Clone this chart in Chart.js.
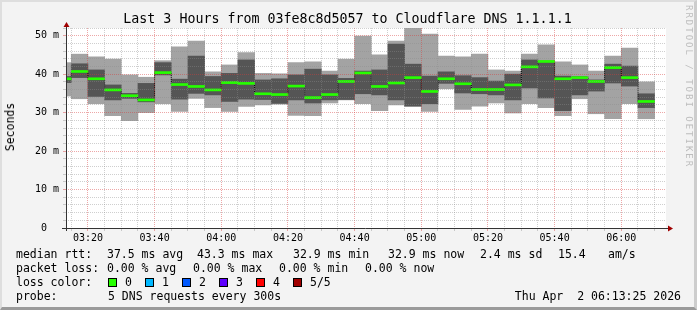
<!DOCTYPE html>
<html>
<head>
<meta charset="utf-8">
<script src="https://cdn.jsdelivr.net/npm/chart.js@4.4.1/dist/chart.umd.min.js"></script>
<style>
html, body { margin: 0; padding: 0; }
body {
    width: 697px; height: 310px; overflow: hidden; position: relative;
    background: #f3f3f3; color: #000;
    font-family: "DejaVu Sans Mono", monospace;
}
#frame {
    position: absolute; left: 0; top: 0; width: 697px; height: 310px; box-sizing: border-box;
    border-top: 2px solid #dedede; border-left: 2px solid #dedede;
    border-right: 3px solid #cdcdcd; border-bottom: 3px solid #9a9a9a;
}
#chart { position: absolute; left: 0; top: 0; }
.txt { position: absolute; white-space: pre; font-size: 11.5px; line-height: 14px; }
#title { position: absolute; left: 0; width: 695px; top: 11px; text-align: center; font-size: 13.3px; line-height: 16px; white-space: pre; }
#ytitle { position: absolute; left: 10px; top: 127px; font-size: 11.5px; line-height: 14px; transform: translate(-50%, -50%) rotate(-90deg); white-space: pre; }
#mark { position: absolute; left: 684px; top: 5px; writing-mode: vertical-rl; font-size: 9px; letter-spacing: 2px; color: #bdbdbd; white-space: pre; }
.sq { position: absolute; width: 7px; height: 7px; border: 1px solid #000; }
</style>
</head>
<body>
<div id="frame"></div>
<canvas id="chart" width="697" height="250"></canvas>
<div id="title">Last 3 Hours from 03fe8c8d5057 to Cloudflare DNS 1.1.1.1</div>
<div id="ytitle">Seconds</div>
<div id="mark">RRDTOOL / TOBI OETIKER</div>
<div id="legend"></div>

<script>
// --- Data (ms), one slot every 5 minutes ---
const slots = ['03:10','03:15','03:20','03:25','03:30','03:35','03:40','03:45','03:50','03:55',
               '04:00','04:05','04:10','04:15','04:20','04:25','04:30','04:35','04:40','04:45',
               '04:50','04:55','05:00','05:05','05:10','05:15','05:20','05:25','05:30','05:35',
               '05:40','05:45','05:50','05:55','06:00','06:05'];
const pingMin = [34.3, 33.6, 32.3, 29.2, 27.9, 30.0, 32.3, 30.3, 33.7, 31.3,
                 30.3, 31.6, 32.0, 32.2, 29.3, 29.2, 32.5, 33.3, 32.3, 30.5,
                 32.0, 31.6, 30.3, 36.2, 30.8, 31.7, 32.5, 29.9, 32.3, 31.3,
                 29.2, 33.6, 29.7, 28.4, 32.3, 28.4];
const ping2   = [37.8, 39.1, 34.2, 33.3, 33.7, 32.8, 39.8, 33.5, 35.0, 34.6,
                 32.9, 33.5, 33.4, 32.4, 33.3, 32.5, 33.3, 33.4, 34.9, 34.6,
                 33.3, 31.7, 32.3, 37.6, 35.1, 34.9, 34.6, 33.3, 36.4, 33.8,
                 30.5, 34.6, 35.6, 37.7, 36.9, 31.3];
const median  = [38.8, 40.7, 38.8, 35.9, 34.4, 33.3, 40.4, 37.3, 36.8, 35.9,
                 37.8, 37.6, 34.9, 34.7, 36.9, 33.9, 34.7, 38.1, 40.3, 36.8,
                 37.7, 39.1, 35.5, 38.8, 37.5, 36.0, 36.0, 37.2, 41.9, 43.3,
                 38.8, 39.1, 38.1, 41.7, 39.1, 32.9];
const ping4   = [39.4, 42.7, 41.1, 37.2, 35.0, 37.6, 43.0, 38.7, 44.7, 39.4,
                 40.2, 43.7, 38.5, 38.8, 39.8, 41.3, 39.8, 38.9, 40.8, 41.1,
                 47.8, 42.6, 39.5, 40.6, 39.6, 39.1, 38.2, 40.0, 43.7, 43.4,
                 39.5, 39.4, 38.5, 42.6, 42.1, 34.9];
const pingMax = [43.0, 45.2, 44.5, 43.9, 39.8, 39.2, 43.5, 47.1, 48.6, 40.6,
                 42.4, 45.6, 40.2, 40.1, 43.0, 43.2, 40.8, 43.9, 49.9, 45.0,
                 48.6, 51.9, 50.4, 44.7, 44.5, 45.2, 41.1, 40.8, 45.2, 47.6,
                 43.2, 42.4, 40.8, 44.7, 46.8, 38.0];

const viewStart = '03:13:25';
const viewEnd = '06:13:25';
const slotLength = 5; // minutes

const xTickLabels = ['03:20','03:40','04:00','04:20','04:40','05:00','05:20','05:40','06:00'];
const yTickValues = [0, 10, 20, 30, 40, 50];
const yTickLabels = ['0  ', '10 m', '20 m', '30 m', '40 m', '50 m'];

const lossLabels = ['0', '1', '2', '3', '4', '5/5'];
const lossColors = ['#26ff00', '#00b8ff', '#0059ff', '#5e00ff', '#ff0000', '#a00000'];

// --- Helpers ---
function toMin(t) {
    const p = t.split(':').map(Number);
    return (p[0] - 3) * 60 + p[1] + (p[2] || 0) / 60;
}

const SMOKE_LIGHT = '#a3a3a3';
const SMOKE_DARK = '#555555';
const GRID_MINOR = 'rgba(140,140,140,0.42)';
const GRID_MAJOR = 'rgba(215,60,60,0.45)';

function band(lo, hi) {
    return slots.map((s, i) => ({x: toMin(s) + slotLength / 2, y: [lo[i], hi[i]]}));
}

let medianSteps = slots.map((s, i) => ({x: toMin(s), y: median[i]}));
medianSteps.push({x: toMin(slots[slots.length - 1]) + slotLength, y: median[median.length - 1]});

const gridMinutes = slots.map(s => toMin(s) + slotLength);

// --- plot background, axes and arrows ---
const rrdAxes = {
    id: 'rrdAxes',
    beforeDraw(chart) {
        const {ctx, chartArea: a} = chart;
        ctx.save();
        ctx.fillStyle = '#ffffff';
        ctx.fillRect(a.left, a.top, a.right - a.left, a.bottom - a.top);
        ctx.restore();
    },
    afterDraw(chart) {
        const {ctx, chartArea: a} = chart;
        const x0 = a.left + 0.5, y0 = a.bottom + 0.5;
        ctx.save();
        ctx.strokeStyle = '#333333';
        ctx.lineWidth = 1;
        ctx.beginPath();
        ctx.moveTo(a.left - 4, y0); ctx.lineTo(a.right + 3, y0);
        ctx.moveTo(x0, a.bottom + 3); ctx.lineTo(x0, a.top - 3);
        ctx.stroke();
        ctx.fillStyle = '#a00000';
        ctx.beginPath();
        ctx.moveTo(a.right + 7, y0); ctx.lineTo(a.right + 2, y0 - 3); ctx.lineTo(a.right + 2, y0 + 3);
        ctx.closePath(); ctx.fill();
        ctx.beginPath();
        ctx.moveTo(x0, a.top - 6); ctx.lineTo(x0 - 3, a.top - 1); ctx.lineTo(x0 + 3, a.top - 1);
        ctx.closePath(); ctx.fill();
        ctx.restore();
    }
};

Chart.defaults.font.family = '"DejaVu Sans Mono", monospace';
Chart.defaults.font.size = 10;
Chart.defaults.color = '#000000';

new Chart(document.getElementById('chart'), {
    type: 'bar',
    data: {
        datasets: [
            {label: 'min/max', data: band(pingMin, pingMax), backgroundColor: SMOKE_LIGHT, order: 4},
            {label: 'inner', data: band(ping2, ping4), backgroundColor: SMOKE_DARK, order: 3},
            {type: 'line', label: 'steps', data: medianSteps, stepped: 'before', borderColor: '#000000',
             borderWidth: 1, borderDash: [1, 1], pointRadius: 0, fill: false, order: 2},
            {label: 'median rtt', data: band(median.map(v => v - 0.26), median.map(v => v + 0.26)),
             backgroundColor: lossColors[0], order: 1}
        ]
    },
    options: {
        responsive: false,
        animation: false,
        devicePixelRatio: 1,
        layout: {padding: {top: 28, right: 31, left: 0, bottom: 0}},
        datasets: {bar: {barPercentage: 1, categoryPercentage: 1, grouped: false, borderWidth: 0}},
        plugins: {legend: {display: false}, tooltip: {enabled: false}},
        scales: {
            x: {
                type: 'linear',
                min: toMin(viewStart),
                max: toMin(viewEnd),
                offset: false,
                afterFit: s => { s.height = 22; },
                afterBuildTicks: s => { s.ticks = gridMinutes.map(v => ({value: v})); },
                ticks: {
                    autoSkip: false, maxRotation: 0, padding: 1,
                    callback: v => {
                        const i = xTickLabels.findIndex(l => Math.abs(toMin(l) - v) < 1e-6);
                        return i < 0 ? '' : xTickLabels[i];
                    }
                },
                grid: {
                    offset: false, z: 1, tickLength: 3, lineWidth: 1,
                    color: c => (c.tick && Math.round(c.tick.value) % 20 === 0) ? GRID_MAJOR : GRID_MINOR
                },
                border: {display: false, dash: [1, 1]}
            },
            y: {
                min: 0,
                max: 52,
                afterFit: s => { s.width = 66; },
                ticks: {
                    stepSize: 2, autoSkip: false, padding: 4,
                    callback: v => {
                        const i = yTickValues.indexOf(v);
                        return i < 0 ? '' : yTickLabels[i];
                    }
                },
                grid: {
                    z: 1, tickLength: 3, lineWidth: 1,
                    color: c => (c.tick && c.tick.value % 10 === 0) ? GRID_MAJOR : GRID_MINOR
                },
                border: {display: false, dash: [1, 1]}
            }
        }
    },
    plugins: [rrdAxes]
});

// --- Legend text ---
const legendRows = [
    {y: 254, items: [[16, 'median rtt:'], [107, '37.5 ms avg'], [197, '43.3 ms max'], [293, '32.9 ms min'],
                     [388, '32.9 ms now'], [480, '2.4 ms sd'], [558, '15.4'], [608, 'am/s']]},
    {y: 268, items: [[16, 'packet loss:'], [107, '0.00 % avg'], [193, '0.00 % max'], [279, '0.00 % min'],
                     [365, '0.00 % now']]},
    {y: 282, items: [[16, 'loss color:']]},
    {y: 296, items: [[16, 'probe:'], [108, '5 DNS requests every 300s']]}
];
const legend = document.getElementById('legend');
legendRows.forEach(row => {
    row.items.forEach(([x, text]) => {
        const d = document.createElement('div');
        d.className = 'txt';
        d.style.left = x + 'px';
        d.style.top = (row.y - 7) + 'px';
        d.textContent = text;
        legend.appendChild(d);
    });
});
const lossX = [108, 145, 182, 219, 256, 293];
lossLabels.forEach((l, i) => {
    const sq = document.createElement('div');
    sq.className = 'sq';
    sq.style.left = lossX[i] + 'px';
    sq.style.top = '278px';
    sq.style.background = lossColors[i];
    legend.appendChild(sq);
    const t = document.createElement('div');
    t.className = 'txt';
    t.style.left = (lossX[i] + 17) + 'px';
    t.style.top = '275px';
    t.textContent = l;
    legend.appendChild(t);
});
const stamp = document.createElement('div');
stamp.className = 'txt';
stamp.style.right = '16px';
stamp.style.top = '289px';
stamp.textContent = 'Thu Apr  2 06:13:25 2026';
legend.appendChild(stamp);
</script>
</body>
</html>
